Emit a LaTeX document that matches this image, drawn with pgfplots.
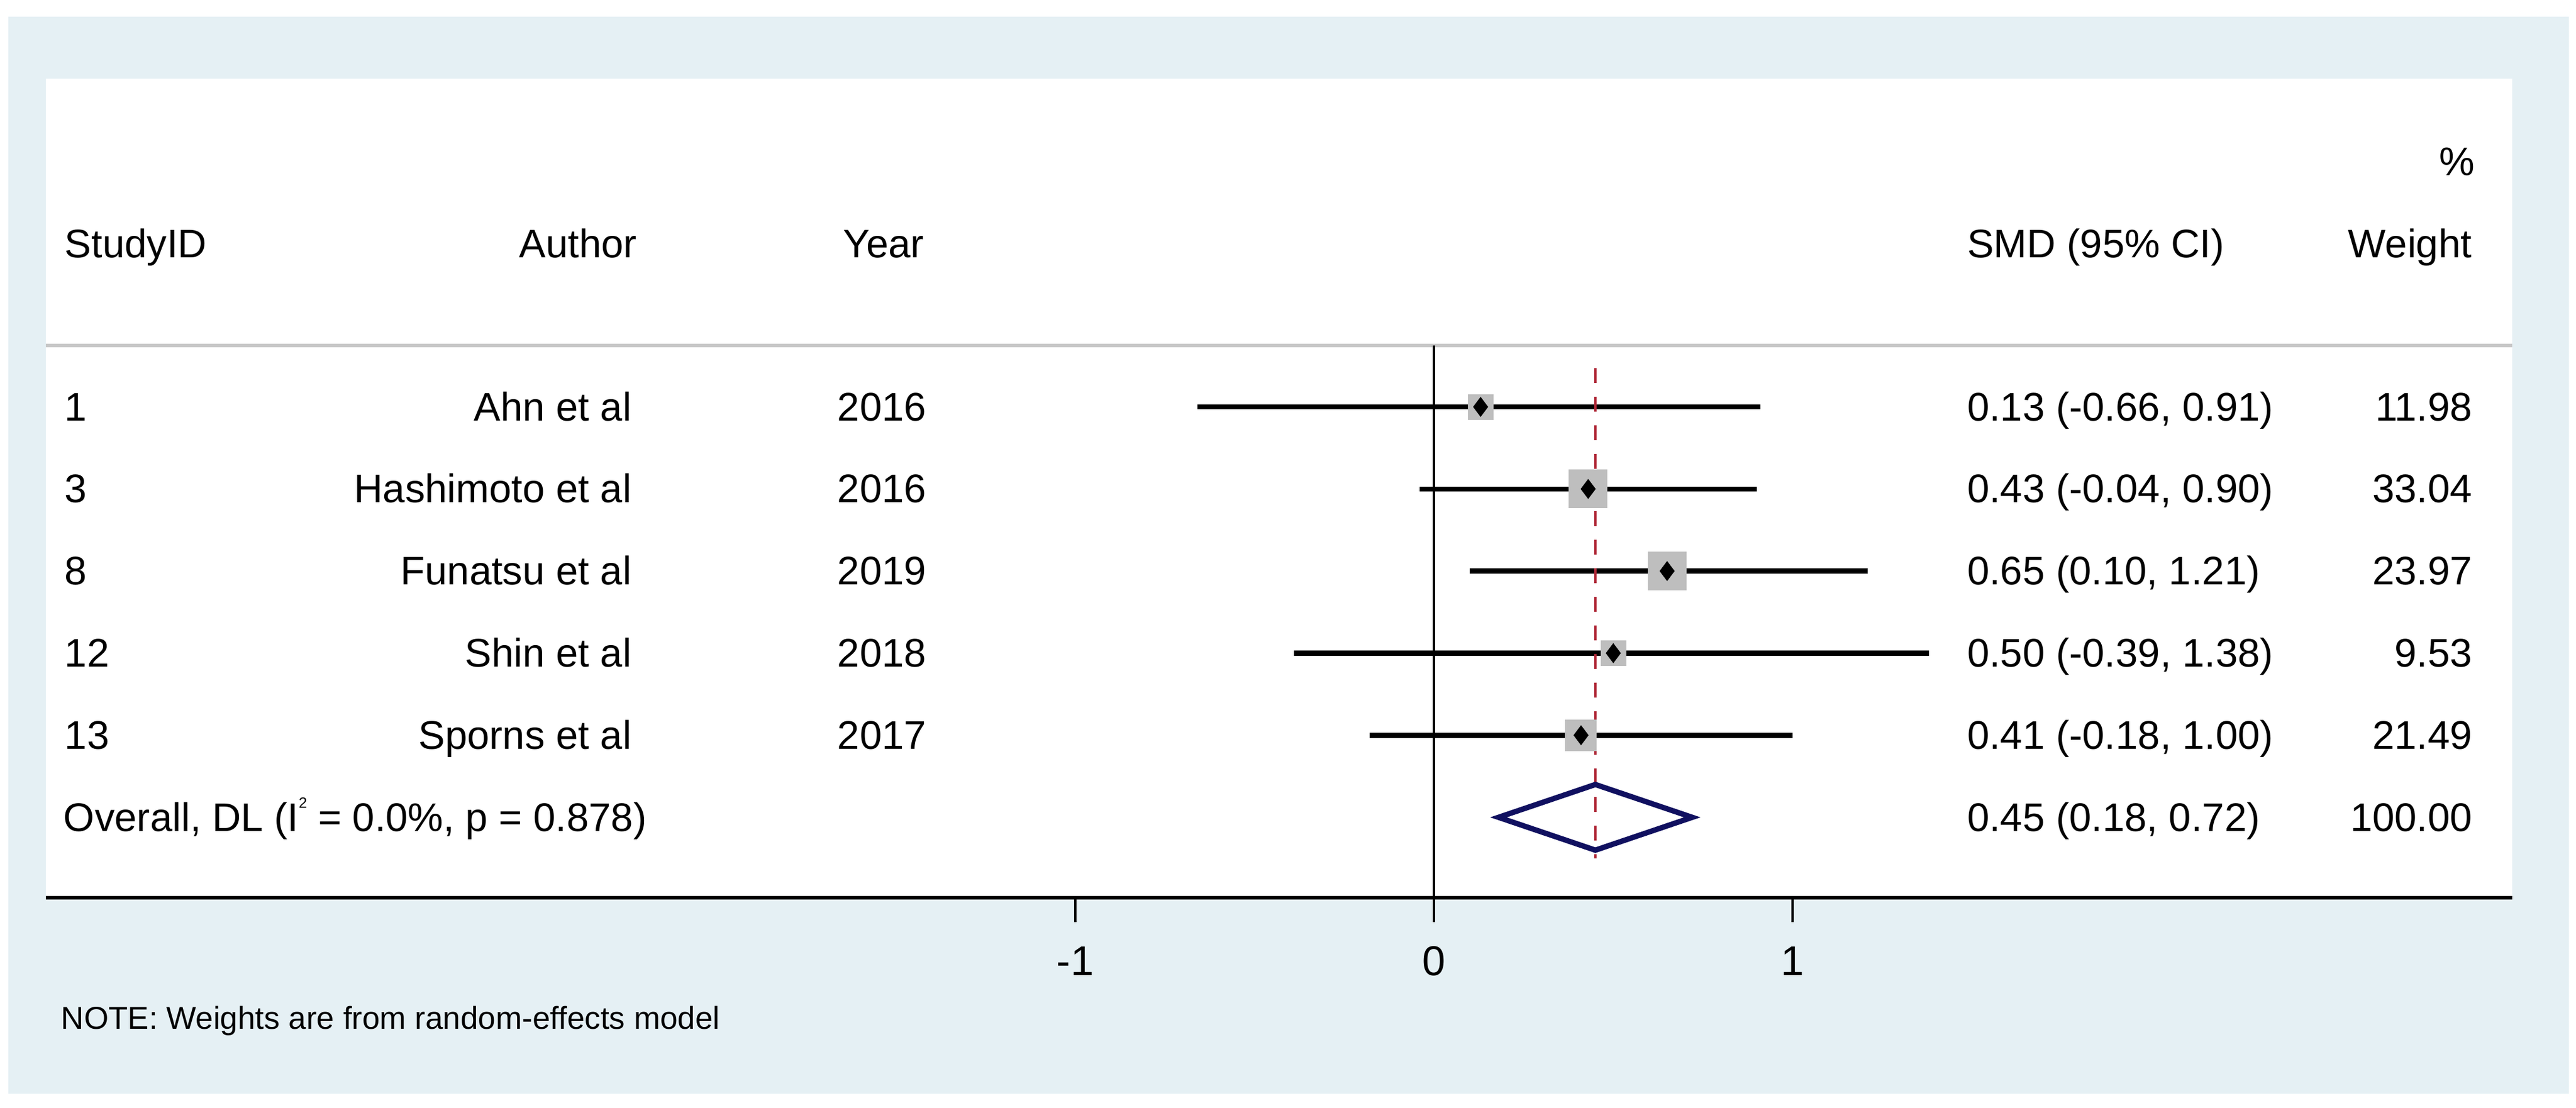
\documentclass[border=0pt]{standalone}
\usepackage{pgfplots}
\pgfplotsset{compat=1.18}
\usepackage{pgfplotstable}
\usepackage{fontspec}
\setmainfont{Liberation Sans}

\definecolor{bgblue}{RGB}{229,240,244}
\definecolor{boxgray}{RGB}{190,190,190}
\definecolor{sepgray}{RGB}{200,200,200}
\definecolor{dnavy}{RGB}{16,16,96}
\definecolor{refred}{RGB}{175,40,55}

\newcommand{\tabfont}{\fontsize{6.7}{8}\selectfont}
\newcommand{\notefont}{\fontsize{5.3}{6.4}\selectfont}

% row, study id, SMD, 95% CI, weight (%), half side of the weight box (pt)
\pgfplotstableread{
row id es lo hi w box
1 1 0.13 -0.66 0.91 11.98 2.1
2 3 0.43 -0.04 0.90 33.04 3.2
3 8 0.65 0.10 1.21 23.97 3.2
4 12 0.50 -0.39 1.38 9.53 2.1
5 13 0.41 -0.18 1.00 21.49 2.6
}\studies

\begin{document}
\begin{tikzpicture}
\fill[white] (0,0) rectangle (432.4pt,185.9pt);
\useasboundingbox (0,0) rectangle (432.4pt,185.9pt);
\fill[bgblue] (1.4pt,2.3pt) rectangle (431.2pt,183.1pt);
\begin{axis}[
  at={(7.7pt,35.2pt)}, anchor=south west,
  width=414.0pt, height=137.5pt, scale only axis,
  xmin=-3.8704, xmax=3.0066, ymin=-6.9797, ymax=2.9985,
  axis background/.style={fill=white},
  axis x line*=bottom, hide y axis,
  axis line style={line width=0.6pt, black},
  xtick={-1,0,1}, xticklabels={-1,0,1},
  tick align=outside, major tick length=4.1pt,
  x tick style={line width=0.35pt, black},
  xticklabel style={font=\fontsize{7}{8}\selectfont, anchor=base, yshift=-8.9pt},
  clip=false,
]
% separator under the header
\addplot[sepgray, line width=0.6pt] coordinates {(-3.8704,-0.2525) (3.0066,-0.2525)};
% line of no effect
\addplot[black, line width=0.4pt] coordinates {(0,-0.2525) (0,-6.9797)};
% weight boxes
\addplot[scatter, only marks, mark=square*,
  mark options={line width=0.1pt},
  scatter/use mapped color={draw=boxgray, fill=boxgray},
  visualization depends on={\thisrow{box} \as \bsize},
  scatter/@pre marker code/.append style={/tikz/mark size=\bsize}]
  table[x=es, y expr=-\thisrow{row}] {\studies};
% confidence intervals
\addplot[draw=none, mark=none,
  error bars/.cd, x dir=both, x explicit, error mark=none,
  error bar style={draw=black, solid, line width=0.85pt}]
  table[x=es, y expr=-\thisrow{row},
        x error plus expr=\thisrow{hi}-\thisrow{es},
        x error minus expr=\thisrow{es}-\thisrow{lo}] {\studies};
% overall estimate line
\addplot[refred, line width=0.45pt, dash pattern=on 2.5pt off 2.3pt]
  coordinates {(0.45,-0.528) (0.45,-6.50)};
% point estimates
\addplot[only marks, mark=diamond*, mark size=1.6pt,
  mark options={draw=black, fill=black, line width=0.1pt}]
  table[x=es, y expr=-\thisrow{row}] {\studies};
% pooled estimate
\addplot[dnavy, line width=0.9pt, line join=miter]
  coordinates {(0.18,-6) (0.45,-5.6) (0.72,-6) (0.45,-6.4)} --cycle;

% header
\begin{scope}[every node/.style={inner sep=0pt, font=\tabfont}]
\node[anchor=base west] at (axis cs:-3.8206,0.82) {StudyID};
\node[anchor=base east] at (axis cs:-2.2193,0.82) {Author};
\node[anchor=base east] at (axis cs:-1.4186,0.82) {Year};
\node[anchor=base west] at (axis cs:1.4834,0.82) {SMD (95\% CI)};
\node[anchor=base east] at (axis cs:2.8970,0.82) {Weight};
\node[anchor=base east] at (axis cs:2.9053,1.816) {\%};
% rows
\node[anchor=base west] at (axis cs:-3.8206,-1.167) {1};
\node[anchor=base west] at (axis cs:-3.8206,-2.167) {3};
\node[anchor=base west] at (axis cs:-3.8206,-3.167) {8};
\node[anchor=base west] at (axis cs:-3.8206,-4.167) {12};
\node[anchor=base west] at (axis cs:-3.8206,-5.167) {13};
\node[anchor=base east] at (axis cs:-2.2342,-1.167) {Ahn et al};
\node[anchor=base east] at (axis cs:-2.2342,-2.167) {Hashimoto et al};
\node[anchor=base east] at (axis cs:-2.2342,-3.167) {Funatsu et al};
\node[anchor=base east] at (axis cs:-2.2342,-4.167) {Shin et al\hspace{0.28em}};
\node[anchor=base east] at (axis cs:-2.2342,-5.167) {Sporns et al};
\node[anchor=base east] at (axis cs:-1.4120,-1.167) {2016};
\node[anchor=base east] at (axis cs:-1.4120,-2.167) {2016};
\node[anchor=base east] at (axis cs:-1.4120,-3.167) {2019};
\node[anchor=base east] at (axis cs:-1.4120,-4.167) {2018};
\node[anchor=base east] at (axis cs:-1.4120,-5.167) {2017};
\node[anchor=base west] at (axis cs:1.4834,-1.167) {0.13 (-0.66, 0.91)};
\node[anchor=base west] at (axis cs:1.4834,-2.167) {0.43 (-0.04, 0.90)};
\node[anchor=base west] at (axis cs:1.4834,-3.167) {0.65 (0.10, 1.21)};
\node[anchor=base west] at (axis cs:1.4834,-4.167) {0.50 (-0.39, 1.38)};
\node[anchor=base west] at (axis cs:1.4834,-5.167) {0.41 (-0.18, 1.00)};
\node[anchor=base west] at (axis cs:1.4834,-6.167) {0.45 (0.18, 0.72)};
\node[anchor=base east] at (axis cs:2.8987,-1.167) {11.98};
\node[anchor=base east] at (axis cs:2.8987,-2.167) {33.04};
\node[anchor=base east] at (axis cs:2.8987,-3.167) {23.97};
\node[anchor=base east] at (axis cs:2.8987,-4.167) {9.53};
\node[anchor=base east] at (axis cs:2.8987,-5.167) {21.49};
\node[anchor=base east] at (axis cs:2.8987,-6.167) {100.00};
\node[anchor=base west] at (axis cs:-3.8239,-6.167)
  {Overall, DL (I\raisebox{1.1ex}{\fontsize{2.5}{3}\selectfont 2} = 0.0\%, p = 0.878)};
\node[anchor=base west, font=\notefont] at (axis cs:-3.8306,-8.576)
  {NOTE: Weights are from random-effects model};
\end{scope}
\end{axis}
\end{tikzpicture}
\end{document}
